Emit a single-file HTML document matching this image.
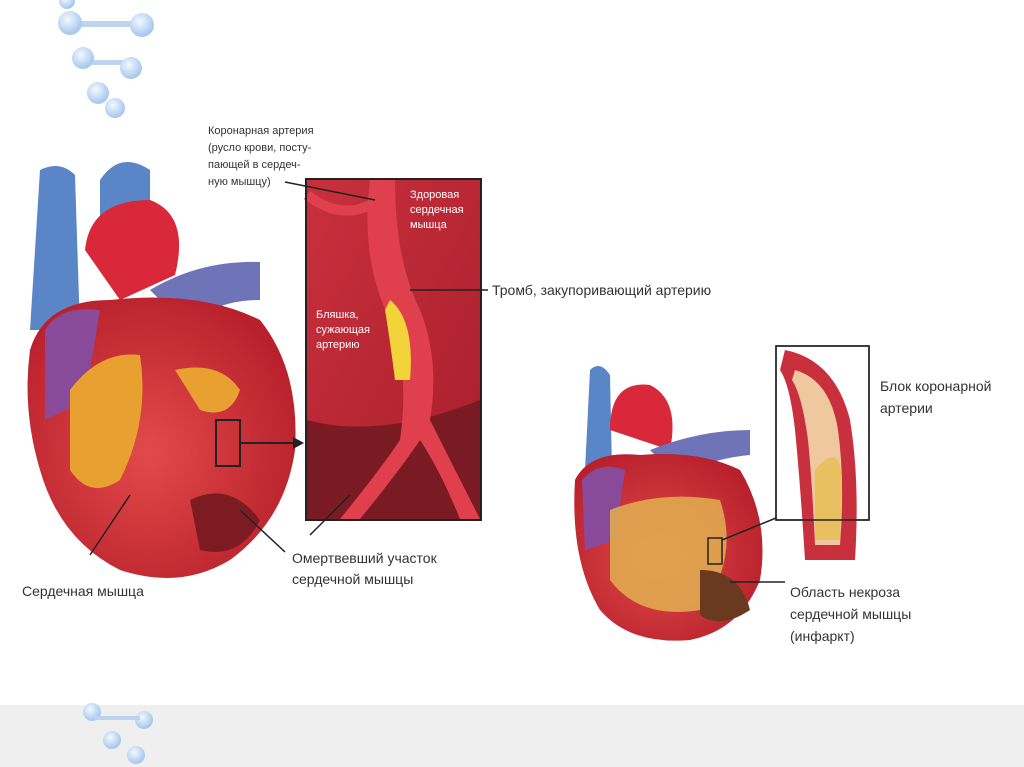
<!DOCTYPE html>
<html><head><meta charset="utf-8"><style>
html,body{margin:0;padding:0;background:#fff;}
body{width:1024px;height:767px;overflow:hidden;position:relative;font-family:"Liberation Sans",sans-serif;}
svg{position:absolute;left:0;top:0;}
text{font-family:"Liberation Sans",sans-serif;}
</style></head><body>
<svg width="1024" height="767" viewBox="0 0 1024 767">
<defs>
<radialGradient id="ball" cx="40%" cy="35%" r="60%"><stop offset="0" stop-color="#f4f9ff"/><stop offset="1" stop-color="#a9c9ef"/></radialGradient>
<radialGradient id="heart" cx="45%" cy="55%" r="60%"><stop offset="0" stop-color="#e24a4a"/><stop offset="1" stop-color="#b8202c"/></radialGradient>
<linearGradient id="ins" x1="0" y1="0" x2="1" y2="1"><stop offset="0" stop-color="#c9303d"/><stop offset="1" stop-color="#a81e2b"/></linearGradient>
</defs>
<rect x="0" y="705" width="1024" height="62" fill="#efefef"/>
<!-- molecules top -->
<g fill="url(#ball)">
<rect x="75" y="21" width="65" height="6" fill="#bcd4f2"/>
<circle cx="67" cy="1" r="8"/>
<circle cx="70" cy="23" r="12"/><circle cx="142" cy="25" r="12"/>
<rect x="85" y="60" width="40" height="5" fill="#bcd4f2"/>
<circle cx="83" cy="58" r="11"/><circle cx="131" cy="68" r="11"/>
<circle cx="98" cy="93" r="11"/><circle cx="115" cy="108" r="10"/>
<!-- bottom molecules -->
<circle cx="92" cy="712" r="9"/><circle cx="144" cy="720" r="9"/>
<rect x="95" y="716" width="45" height="4" fill="#bcd4f2"/>
<circle cx="112" cy="740" r="9"/><circle cx="136" cy="755" r="9"/>
</g>
<!-- LEFT HEART -->
<path d="M40 170 Q60 160 75 175 L80 330 L30 330 Z" fill="#5a86c8"/>
<path d="M100 180 Q120 150 150 170 L150 230 L100 240 Z" fill="#5a86c8"/>
<path d="M85 250 Q90 200 150 200 Q190 215 175 275 L120 300 Z" fill="#d8283a"/>
<path d="M150 290 Q200 260 260 262 L260 300 Q210 300 190 330 Z" fill="#6f74b8"/>
<path d="M30 350 Q45 300 110 300 Q200 290 260 320 Q300 370 295 450 Q285 520 230 560 Q180 590 120 570 Q60 540 40 470 Q22 410 30 350 Z" fill="url(#heart)"/>
<path d="M45 330 Q60 305 100 310 L85 400 L45 420 Z" fill="#8a4a9a"/>
<path d="M70 390 Q100 350 140 355 Q150 420 120 480 Q90 500 70 470 Z" fill="#e8a030"/>
<path d="M175 370 Q220 360 240 390 Q230 420 200 410 Z" fill="#e8a030"/>
<path d="M190 500 Q230 480 260 520 Q240 560 200 550 Z" fill="#7c1c22"/>
<rect x="216" y="420" width="24" height="46" fill="none" stroke="#222" stroke-width="2"/>
<line x1="240" y1="443" x2="295" y2="443" stroke="#222" stroke-width="2"/>
<path d="M293 437 L304 443 L293 449 Z" fill="#222"/>
<!-- INSET LEFT -->
<rect x="306" y="179" width="175" height="341" fill="url(#ins)" stroke="#222" stroke-width="2"/>
<path d="M307 420 Q380 440 480 400 L480 519 L307 519 Z" fill="#7a1a22"/>
<path d="M370 180 Q360 260 390 320 Q410 370 400 440 Q380 470 340 519 L360 519 Q400 470 420 440 Q440 470 460 519 L480 519 Q450 460 430 420 Q440 360 420 310 Q395 260 395 180 Z" fill="#e0404d"/>
<path d="M390 300 Q415 320 410 380 L395 380 Q390 340 385 310 Z" fill="#f2d33a"/>
<path d="M307 195 Q340 220 370 205" fill="none" stroke="#e0404d" stroke-width="10"/>
<rect x="306" y="179" width="175" height="341" fill="none" stroke="#222" stroke-width="2"/>
<text x="410" y="198" font-size="11" fill="#fff">Здоровая</text>
<text x="410" y="213" font-size="11" fill="#fff">сердечная</text>
<text x="410" y="228" font-size="11" fill="#fff">мышца</text>
<text x="316" y="318" font-size="11" fill="#fff">Бляшка,</text>
<text x="316" y="333" font-size="11" fill="#fff">сужающая</text>
<text x="316" y="348" font-size="11" fill="#fff">артерию</text>
<!-- left labels -->
<text font-size="11" fill="#333"><tspan x="208" y="134">Коронарная артерия</tspan><tspan x="208" y="151">(русло крови, посту-</tspan><tspan x="208" y="168">пающей в сердеч-</tspan><tspan x="208" y="185">ную мышцу)</tspan></text>
<line x1="285" y1="182" x2="375" y2="200" stroke="#222" stroke-width="1.5"/>
<line x1="410" y1="290" x2="488" y2="290" stroke="#222" stroke-width="1.5"/>
<text x="492" y="295" font-size="14" fill="#333">Тромб, закупоривающий артерию</text>
<line x1="310" y1="535" x2="350" y2="495" stroke="#222" stroke-width="1.5"/>
<line x1="90" y1="555" x2="130" y2="495" stroke="#222" stroke-width="1.5"/>
<line x1="240" y1="510" x2="285" y2="552" stroke="#222" stroke-width="1.5"/>
<text x="22" y="596" font-size="14" fill="#333">Сердечная мышца</text>
<text x="292" y="563" font-size="14" fill="#333">Омертвевший участок</text>
<text x="292" y="584" font-size="14" fill="#333">сердечной мышцы</text>
<!-- RIGHT HEART -->
<path d="M590 370 Q600 360 610 375 L612 470 L585 470 Z" fill="#5a86c8"/>
<path d="M610 430 Q610 380 650 385 Q680 400 670 450 Z" fill="#d8283a"/>
<path d="M650 450 Q700 430 750 430 L750 455 Q700 460 680 480 Z" fill="#6f74b8"/>
<path d="M575 480 Q590 450 640 455 Q700 450 740 470 Q770 520 760 580 Q740 630 690 640 Q630 645 600 610 Q570 560 575 480 Z" fill="url(#heart)"/>
<path d="M582 480 Q600 460 625 470 L615 540 L585 550 Z" fill="#8a4a9a"/>
<path d="M610 510 Q660 490 720 500 Q740 560 700 610 Q640 620 610 580 Z" fill="#e0b050" opacity="0.85"/>
<path d="M700 570 Q740 570 750 610 Q720 630 700 615 Z" fill="#6a3a20"/>
<rect x="708" y="538" width="14" height="26" fill="none" stroke="#222" stroke-width="1.5"/>
<line x1="722" y1="540" x2="776" y2="518" stroke="#222" stroke-width="1.5"/>
<!-- INSET RIGHT -->
<rect x="776" y="346" width="93" height="174" fill="#fff" stroke="#222" stroke-width="1.5"/>
<path d="M785 350 Q835 360 850 420 Q860 480 855 560 L805 560 Q800 480 795 430 Q790 385 780 370 Z" fill="#c8303d"/>
<path d="M795 370 Q830 380 838 430 Q845 480 840 545 L815 545 Q812 480 808 440 Q802 395 792 380 Z" fill="#f0c8a0"/>
<path d="M815 470 Q840 440 842 480 L840 540 L815 540 Z" fill="#e8c060"/>
<rect x="776" y="346" width="93" height="174" fill="none" stroke="#222" stroke-width="1.5"/>
<text x="880" y="391" font-size="14" fill="#333">Блок коронарной</text>
<text x="880" y="413" font-size="14" fill="#333">артерии</text>
<line x1="730" y1="582" x2="785" y2="582" stroke="#222" stroke-width="1.5"/>
<text x="790" y="597" font-size="14" fill="#333">Область некроза</text>
<text x="790" y="619" font-size="14" fill="#333">сердечной мышцы</text>
<text x="790" y="641" font-size="14" fill="#333">(инфаркт)</text>
</svg>
</body></html>
